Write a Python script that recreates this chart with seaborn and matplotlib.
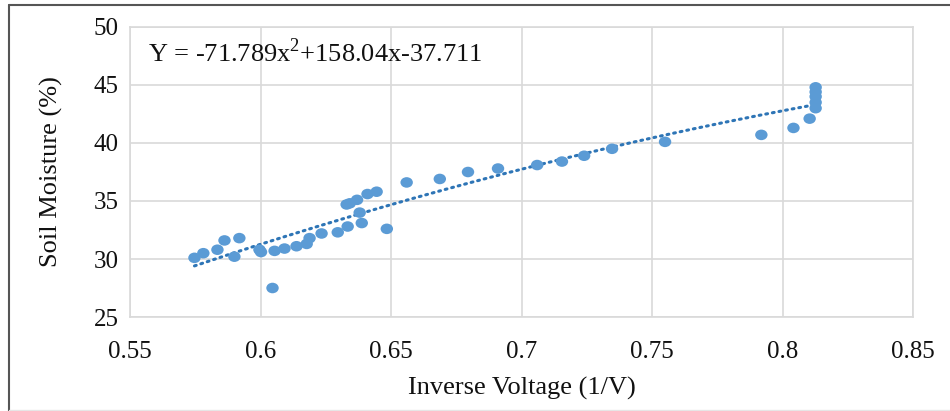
import numpy as np
import pandas as pd
import matplotlib
matplotlib.use('Agg')
import matplotlib.pyplot as plt
from matplotlib.lines import Line2D
from matplotlib.path import Path
from matplotlib.transforms import Affine2D
import seaborn as sns

# ── Data ──────────────────────────────────────────────────────────────────────
inv_voltage = [0.5747, 0.5781, 0.5835, 0.5862, 0.5900, 0.5919, 0.5996, 0.6002,
               0.6046, 0.6054, 0.6092, 0.6138, 0.6177, 0.6188, 0.6234, 0.6296,
               0.6334, 0.6330, 0.6342, 0.6370, 0.6380, 0.6388, 0.6410, 0.6445,
               0.6484, 0.6560, 0.6687, 0.6795, 0.6910, 0.7060, 0.7155, 0.7240,
               0.7347, 0.7550, 0.7919, 0.8042, 0.8104, 0.8127, 0.8127, 0.8127,
               0.8127, 0.8127]
soil_moisture = [30.1, 30.5, 30.8, 31.6, 30.2, 31.8, 30.8, 30.6,
                 27.5, 30.7, 30.9, 31.1, 31.3, 31.8, 32.2, 32.3,
                 32.8, 34.7, 34.8, 35.1, 34.0, 33.1, 35.6, 35.8,
                 32.6, 36.6, 36.9, 37.5, 37.8, 38.1, 38.4, 38.9,
                 39.5, 40.1, 40.7, 41.3, 42.1, 43.0, 43.5, 44.0,
                 44.4, 44.8]
trend_coef = [-71.789, 158.04, -37.711]
equation = "Y = -71.789x$^{2}$+158.04x-37.711"
x_ticks = [0.55, 0.6, 0.65, 0.7, 0.75, 0.8, 0.85]
x_tick_labels = ["0.55", "0.6", "0.65", "0.7", "0.75", "0.8", "0.85"]
y_ticks = [25, 30, 35, 40, 45, 50]

df = pd.DataFrame({"x": inv_voltage, "y": soil_moisture})

# ── Style ─────────────────────────────────────────────────────────────────────
sns.set_style("white")
plt.rcParams['font.family'] = ['Liberation Serif', 'DejaVu Serif']
plt.rcParams['mathtext.fontset'] = 'custom'
plt.rcParams['mathtext.rm'] = 'Liberation Serif'

POINT = '#5b9bd5'
TREND = '#2e75b6'
GRID = '#d9d9d9'
TXT = '#111111'

# Excel-style marker: a slightly flattened dot
ellipse = Path.unit_circle().transformed(Affine2D().scale(1.0, 0.85))

fig = plt.figure(figsize=(9.5, 4.11), dpi=100)
ax = fig.add_axes([130 / 950, 1 - 317 / 411, 783 / 950, 290 / 411])

# trendline from the printed polynomial
xs = np.linspace(min(inv_voltage), max(inv_voltage), 200)
ax.plot(xs, np.polyval(trend_coef, xs), color=TREND, lw=2.2,
        ls=(0, (0.6, 1.6)), dash_capstyle='round', zorder=2)

sns.scatterplot(data=df, x="x", y="y", ax=ax, color=POINT, s=80,
                marker=ellipse, edgecolor='none', zorder=3)

ax.set_xlim(0.55, 0.85)
ax.set_ylim(25, 50)
ax.set_xticks(x_ticks)
ax.set_xticklabels(x_tick_labels)
ax.set_yticks(y_ticks)
ax.grid(True, color=GRID, lw=1.2)
ax.set_axisbelow(True)
for s in ax.spines.values():
    s.set_color(GRID)
    s.set_linewidth(1.2)
ax.tick_params(length=0, labelsize=18, colors=TXT)
ax.tick_params(axis='x', pad=17)
ax.tick_params(axis='y', pad=8)

ax.set_xlabel("Inverse Voltage (1/V)", fontsize=19, color=TXT, labelpad=10)
ax.set_ylabel("Soil Moisture (%)", fontsize=19, color=TXT, labelpad=22)

ax.text(0.023, 0.91, equation, transform=ax.transAxes, fontsize=19,
        color=TXT, va='center', ha='left')

# outer frame of the pasted chart
fig.add_artist(Line2D([9 / 950, 1.0], [1 - 5 / 411] * 2, color='#555555', lw=1.5))
fig.add_artist(Line2D([9 / 950] * 2, [0.0, 1 - 5 / 411], color='#555555', lw=1.5))
fig.add_artist(Line2D([9 / 950, 1.0], [1 / 411] * 2, color='#e6e6e6', lw=1))

fig.savefig("out.png", dpi=100, facecolor='white')
